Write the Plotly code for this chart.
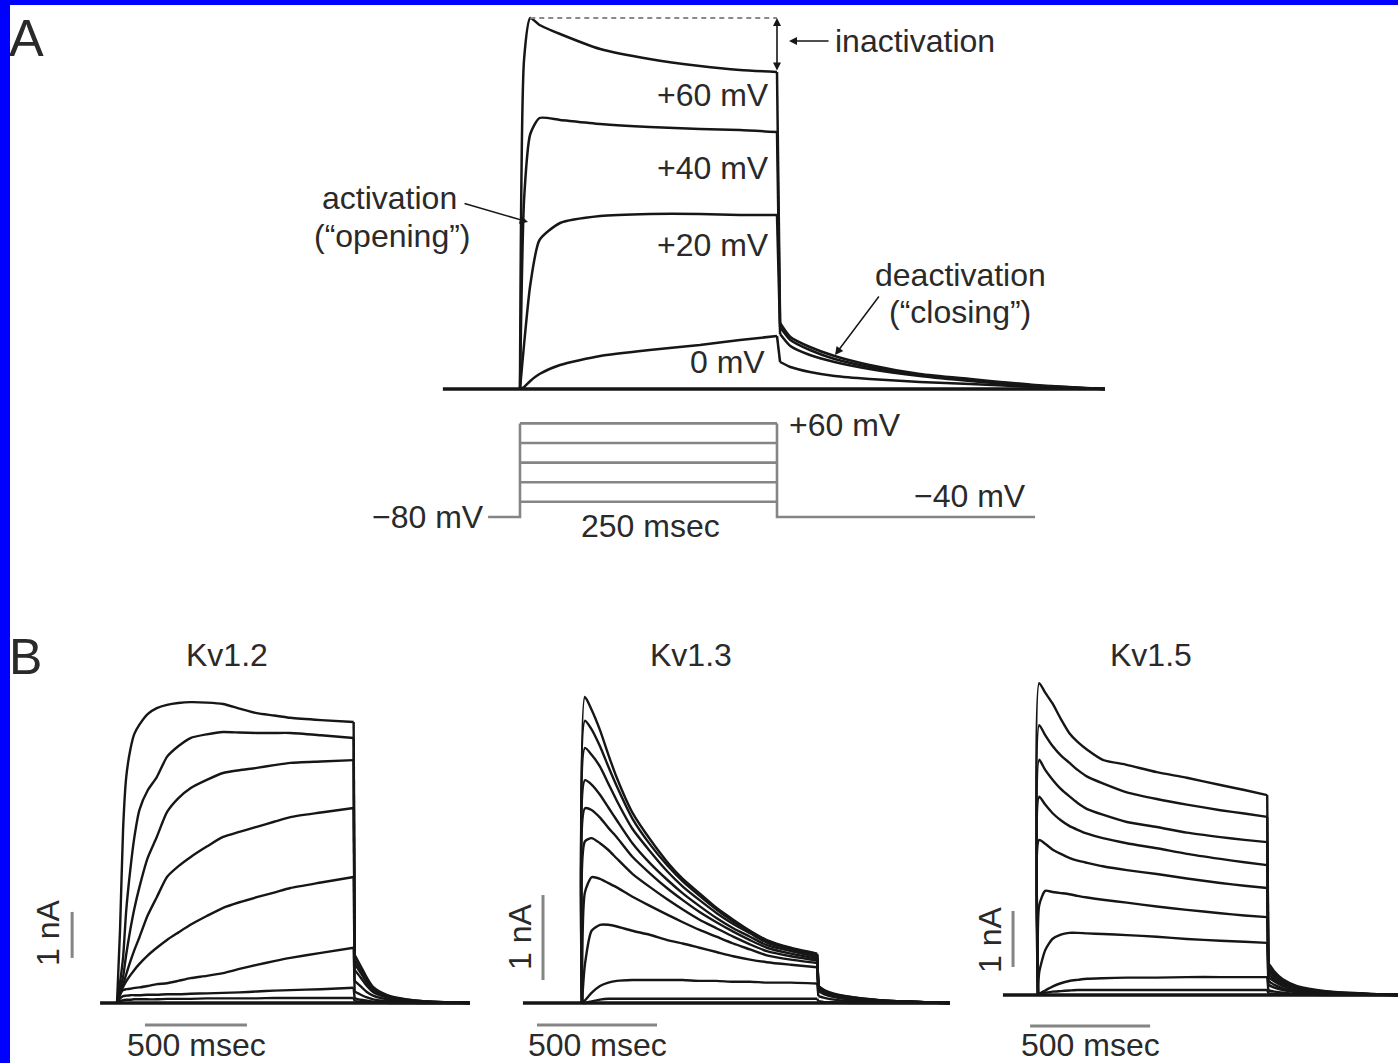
import plotly.graph_objects as go

W, H = 1398, 1063


def px(x):
    return x / W


def py(y):
    return 1 - y / H


# ---------------- Panel A: currents (relative units) ----------------
a_time_ms = [-75, 0, 4, 10, 19, 39, 78, 126, 175, 214, 250, 253, 263, 282, 306, 340, 389, 438, 501, 569]
a_i_p60 = [0, 0, 3.30, 3.71, 3.64, 3.55, 3.40, 3.30, 3.23, 3.19, 3.17, 0.66, 0.52, 0.42, 0.33, 0.24, 0.15, 0.10, 0.04, 0]
a_i_p40 = [0, 0, 1.90, 2.55, 2.71, 2.69, 2.65, 2.62, 2.60, 2.59, 2.57, 0.62, 0.49, 0.39, 0.30, 0.22, 0.14, 0.09, 0.035, 0]
a_i_p20 = [0, 0, 0.45, 1.04, 1.49, 1.66, 1.73, 1.75, 1.75, 1.74, 1.74, 0.55, 0.43, 0.34, 0.27, 0.20, 0.13, 0.08, 0.03, 0]
a_i_0 = [0, 0, 0.02, 0.08, 0.15, 0.24, 0.33, 0.39, 0.44, 0.49, 0.53, 0.27, 0.22, 0.17, 0.13, 0.10, 0.07, 0.05, 0.02, 0]
a_i_m20 = [0] * 20
a_sweep_labels = ["+60 mV", "+40 mV", "+20 mV", "0 mV"]

# ---------------- Panel A: voltage protocol (schematic) ----------------
protocol_step_mV = [-20, 0, 20, 40, 60]
protocol_step_ms = 250
protocol_hold_start_ms = -31
protocol_tail_end_ms = 501
protocol_baseline_drawn = -35.5   # schematic level at which -80/-40 mV are drawn

# ---------------- Panel B ----------------
kv12_step_end_ms = 1160
kv12_time_ms = [-83, 0, 15, 30, 45, 65, 85, 110, 150, 195, 245, 300, 360, 440, 520, 600, 685, 770, 850, 1000, 1160,
                1165, 1195, 1225, 1255, 1300, 1340, 1420, 1500, 1730]
kv12_sweeps_nA = [
    [0, 0, 1.60, 3.80, 4.90, 5.50, 5.85, 6.05, 6.28, 6.41, 6.48, 6.52, 6.54, 6.53, 6.50, 6.40, 6.30, 6.25, 6.20, 6.15, 6.11,
     1.05, 0.80, 0.55, 0.35, 0.22, 0.15, 0.08, 0.04, 0],
    [0, 0, 0.45, 1.00, 2.00, 2.89, 3.60, 4.20, 4.62, 4.91, 5.35, 5.58, 5.76, 5.84, 5.89, 5.88, 5.87, 5.87, 5.87, 5.82, 5.76,
     0.95, 0.72, 0.50, 0.32, 0.20, 0.13, 0.07, 0.04, 0],
    [0, 0, 0.30, 0.57, 1.05, 1.59, 2.05, 2.52, 3.15, 3.61, 4.15, 4.45, 4.67, 4.85, 5.00, 5.06, 5.11, 5.17, 5.22, 5.25, 5.28,
     0.85, 0.65, 0.44, 0.28, 0.18, 0.12, 0.06, 0.03, 0],
    [0, 0, 0.25, 0.40, 0.62, 0.90, 1.15, 1.43, 1.90, 2.30, 2.74, 2.97, 3.17, 3.40, 3.61, 3.72, 3.83, 3.94, 4.04, 4.14, 4.24,
     0.72, 0.55, 0.37, 0.24, 0.15, 0.10, 0.05, 0.03, 0],
    [0, 0, 0.20, 0.35, 0.47, 0.60, 0.72, 0.85, 1.03, 1.20, 1.37, 1.53, 1.70, 1.89, 2.07, 2.19, 2.30, 2.40, 2.50, 2.62, 2.74,
     0.48, 0.36, 0.24, 0.16, 0.10, 0.07, 0.04, 0.02, 0],
    [0, 0, 0.18, 0.28, 0.30, 0.31, 0.33, 0.34, 0.37, 0.41, 0.43, 0.48, 0.54, 0.59, 0.65, 0.74, 0.83, 0.91, 0.98, 1.09, 1.20,
     0.25, 0.18, 0.12, 0.08, 0.05, 0.04, 0.02, 0.01, 0],
    [0, 0, 0.10, 0.15, 0.16, 0.17, 0.17, 0.17, 0.18, 0.18, 0.19, 0.19, 0.20, 0.21, 0.22, 0.23, 0.25, 0.27, 0.28, 0.30, 0.33,
     0.10, 0.07, 0.05, 0.03, 0.02, 0.01, 0.01, 0, 0],
    [0, 0, 0.04, 0.06, 0.07, 0.07, 0.08, 0.08, 0.08, 0.08, 0.09, 0.09, 0.09, 0.10, 0.10, 0.10, 0.10, 0.11, 0.11, 0.11, 0.11,
     0.04, 0.03, 0.02, 0.01, 0.01, 0, 0, 0, 0],
]

kv13_step_end_ms = 980
kv13_time_ms = [-246, 0, 12, 40, 75, 110, 145, 210, 285, 355, 420, 490, 560, 630, 700, 770, 870, 980,
                985, 1010, 1050, 1120, 1250, 1533]
kv13_sweeps_nA = [
    [0, 0, 3.60, 3.45, 3.21, 2.92, 2.65, 2.24, 1.92, 1.66, 1.46, 1.29, 1.12, 0.98, 0.85, 0.74, 0.65, 0.58, 0.20, 0.15, 0.11, 0.07, 0.03, 0],
    [0, 0, 3.32, 3.22, 3.02, 2.78, 2.55, 2.17, 1.86, 1.62, 1.43, 1.26, 1.10, 0.96, 0.84, 0.73, 0.64, 0.57, 0.19, 0.15, 0.10, 0.07, 0.03, 0],
    [0, 0, 3.00, 2.92, 2.78, 2.58, 2.38, 2.05, 1.78, 1.55, 1.37, 1.21, 1.06, 0.93, 0.82, 0.71, 0.63, 0.56, 0.19, 0.14, 0.10, 0.06, 0.03, 0],
    [0, 0, 2.62, 2.57, 2.45, 2.30, 2.15, 1.88, 1.64, 1.45, 1.29, 1.14, 1.00, 0.88, 0.78, 0.68, 0.61, 0.54, 0.18, 0.14, 0.10, 0.06, 0.03, 0],
    [0, 0, 2.29, 2.27, 2.18, 2.06, 1.95, 1.72, 1.52, 1.35, 1.21, 1.07, 0.95, 0.84, 0.74, 0.65, 0.58, 0.52, 0.18, 0.13, 0.09, 0.06, 0.02, 0],
    [0, 0, 1.90, 1.94, 1.88, 1.80, 1.70, 1.52, 1.36, 1.22, 1.10, 0.98, 0.88, 0.78, 0.69, 0.61, 0.55, 0.50, 0.17, 0.13, 0.09, 0.05, 0.02, 0],
    [0, 0, 1.30, 1.48, 1.46, 1.41, 1.36, 1.25, 1.14, 1.04, 0.95, 0.86, 0.78, 0.70, 0.63, 0.56, 0.51, 0.47, 0.16, 0.12, 0.08, 0.05, 0.02, 0],
    [0, 0, 0.45, 0.85, 0.92, 0.92, 0.90, 0.85, 0.80, 0.74, 0.70, 0.65, 0.60, 0.55, 0.51, 0.48, 0.45, 0.42, 0.14, 0.10, 0.07, 0.04, 0.02, 0],
    [0, 0, 0.03, 0.12, 0.20, 0.24, 0.26, 0.27, 0.27, 0.27, 0.27, 0.26, 0.26, 0.25, 0.25, 0.24, 0.24, 0.23, 0.08, 0.06, 0.04, 0.02, 0.01, 0],
    [0, 0, 0.00, 0.02, 0.04, 0.05, 0.05, 0.05, 0.05, 0.05, 0.05, 0.05, 0.05, 0.05, 0.05, 0.05, 0.05, 0.05, 0.02, 0.01, 0.01, 0, 0, 0],
]

kv15_step_end_ms = 955
kv15_time_ms = [-146, 0, 5, 30, 60, 95, 130, 165, 205, 270, 370, 495, 620, 760, 860, 955,
                960, 985, 1020, 1080, 1200, 1500]
kv15_sweeps_nA = [
    [0, 0, 5.57, 5.40, 5.21, 4.93, 4.68, 4.52, 4.38, 4.20, 4.11, 3.98, 3.88, 3.75, 3.66, 3.57, 0.57, 0.42, 0.28, 0.16, 0.07, 0],
    [0, 0, 4.82, 4.64, 4.45, 4.28, 4.15, 4.02, 3.90, 3.78, 3.62, 3.50, 3.40, 3.30, 3.24, 3.18, 0.50, 0.37, 0.25, 0.14, 0.06, 0],
    [0, 0, 4.20, 4.02, 3.85, 3.68, 3.55, 3.43, 3.32, 3.22, 3.09, 3.00, 2.90, 2.82, 2.77, 2.73, 0.44, 0.33, 0.22, 0.12, 0.05, 0],
    [0, 0, 3.54, 3.40, 3.25, 3.12, 3.02, 2.95, 2.88, 2.80, 2.71, 2.62, 2.52, 2.43, 2.37, 2.32, 0.38, 0.28, 0.19, 0.10, 0.04, 0],
    [0, 0, 2.77, 2.70, 2.60, 2.52, 2.45, 2.40, 2.36, 2.30, 2.23, 2.16, 2.08, 2.00, 1.95, 1.91, 0.32, 0.24, 0.16, 0.09, 0.04, 0],
    [0, 0, 1.60, 1.86, 1.84, 1.82, 1.80, 1.77, 1.74, 1.70, 1.65, 1.58, 1.52, 1.46, 1.42, 1.39, 0.25, 0.18, 0.12, 0.07, 0.03, 0],
    [0, 0, 0.40, 0.80, 1.00, 1.08, 1.11, 1.11, 1.10, 1.09, 1.07, 1.04, 1.00, 0.97, 0.95, 0.93, 0.18, 0.13, 0.09, 0.05, 0.02, 0],
    [0, 0, 0.02, 0.08, 0.15, 0.21, 0.25, 0.27, 0.29, 0.30, 0.31, 0.31, 0.32, 0.32, 0.32, 0.32, 0.08, 0.06, 0.04, 0.02, 0.01, 0],
    [0, 0, 0.02, 0.04, 0.06, 0.07, 0.08, 0.09, 0.09, 0.09, 0.09, 0.09, 0.09, 0.09, 0.09, 0.09, 0.03, 0.02, 0.01, 0.01, 0, 0],
]

b_titles = ["Kv1.2", "Kv1.3", "Kv1.5"]
scale_time_ms = 500
scale_current_nA = 1

# ---------------- styles ----------------
FONT = "Liberation Sans, Arial, Helvetica, sans-serif"
INK = "#161616"
TXT = "#2a2a2a"
GREY = "#858585"
BASE_W = 3.6
FS = 32

fig = go.Figure()


def add_line(x, y, xa, ya, color=INK, width=2.3, dash=None, shape="linear"):
    line = dict(color=color, width=width, dash=dash, shape=shape)
    if shape == "spline":
        line["smoothing"] = 0.6
    fig.add_trace(go.Scatter(x=x, y=y, xaxis=xa, yaxis=ya, mode="lines", line=line,
                             hoverinfo="skip", showlegend=False))


def add_sweep(t, v, step_end, xa, ya, width):
    """Draw a sweep: smooth during the step, a sharp drop at the step end, smooth tail."""
    k = t.index(step_end)
    add_line(t[1:k + 1], v[1:k + 1], xa, ya, width=width, shape="spline")
    add_line(t[k:k + 2], v[k:k + 2], xa, ya, width=width)
    add_line(t[k + 1:], v[k + 1:], xa, ya, width=width, shape="spline")


# Panel A currents
add_line(a_time_ms, a_i_m20, "x", "y", width=BASE_W)
for sweep in [a_i_0, a_i_p20, a_i_p40, a_i_p60]:
    add_sweep(a_time_ms, sweep, protocol_step_ms, "x", "y", 2.5)

# Panel A protocol
for lvl in protocol_step_mV:
    add_line([0, protocol_step_ms], [lvl, lvl], "x", "y2", color=GREY, width=2.6)
add_line([protocol_hold_start_ms, 0, 0], [protocol_baseline_drawn, protocol_baseline_drawn, max(protocol_step_mV)],
         "x", "y2", color=GREY, width=2.6)
add_line([protocol_step_ms, protocol_step_ms, protocol_tail_end_ms],
         [max(protocol_step_mV), protocol_baseline_drawn, protocol_baseline_drawn], "x", "y2", color=GREY, width=2.6)

# Panel B currents
for xa, ya, t, sweeps, t_end in [("x3", "y3", kv12_time_ms, kv12_sweeps_nA, kv12_step_end_ms),
                                 ("x4", "y4", kv13_time_ms, kv13_sweeps_nA, kv13_step_end_ms),
                                 ("x5", "y5", kv15_time_ms, kv15_sweeps_nA, kv15_step_end_ms)]:
    add_line(t, [0] * len(t), xa, ya, width=BASE_W)
    for sweep in sweeps:
        add_sweep(t, sweep, t_end, xa, ya, 2.4)

# scale bars (data units through the axes)
scale_bars = [  # axis, t_start of time bar, y of time bar, t of current bar, y start of current bar
    ("3", 137, -0.478, -220, 0.98),
    ("4", -187.5, -0.259, -162.5, 0.27),
    ("5", -33, -0.554, -104, 0.50),
]
for k, t0, yb, tc, yc in scale_bars:
    add_line([t0, t0 + scale_time_ms], [yb, yb], "x" + k, "y" + k, color=GREY, width=3)
    add_line([tc, tc], [yc, yc + scale_current_nA], "x" + k, "y" + k, color=GREY, width=3)

ax_common = dict(visible=False, fixedrange=True, showgrid=False, zeroline=False)
fig.update_layout(
    width=W, height=H, margin=dict(l=0, r=0, t=0, b=0),
    paper_bgcolor="white", plot_bgcolor="rgba(0,0,0,0)", showlegend=False,
    xaxis=dict(domain=[px(440), px(1110)], range=[-77.8, 573.9], anchor="y", **ax_common),
    yaxis=dict(domain=[py(395), py(10)], range=[-0.06, 3.79], anchor="x", **ax_common),
    yaxis2=dict(domain=[py(530), py(410)], range=[-48.8, 73.7], anchor="x", **ax_common),
    xaxis3=dict(domain=[px(30), px(470)], range=[-426.5, 1730.4], anchor="y3", **ax_common),
    yaxis3=dict(domain=[py(1060), py(690)], range=[-1.239, 6.804], anchor="x3", **ax_common),
    xaxis4=dict(domain=[px(495), px(955)], range=[-362.5, 1554.2], anchor="y4", **ax_common),
    yaxis4=dict(domain=[py(1060), py(690)], range=[-0.6706, 3.6824], anchor="x4", **ax_common),
    xaxis5=dict(domain=[px(970), px(1398)], range=[-283.3, 1500], anchor="y5", **ax_common),
    yaxis5=dict(domain=[py(1060), py(670)], range=[-1.1607, 5.8036], anchor="x5", **ax_common),
)

# blue frame (left and top)
fig.add_shape(type="rect", xref="paper", yref="paper", x0=0, x1=px(10), y0=0, y1=1,
              fillcolor="#0000ff", line=dict(width=0), layer="above")
fig.add_shape(type="rect", xref="paper", yref="paper", x0=0, x1=1, y0=py(5), y1=1,
              fillcolor="#0000ff", line=dict(width=0), layer="above")

# inactivation: dashed peak line and double arrow
peak60 = max(a_i_p60)
end60 = a_i_p60[a_time_ms.index(protocol_step_ms)]
t_peak60 = a_time_ms[a_i_p60.index(peak60)]
fig.add_shape(type="line", xref="x", yref="y", x0=t_peak60, x1=protocol_step_ms, y0=peak60, y1=peak60,
              line=dict(color="#8a8a8a", width=2, dash="5px,4px"))
fig.add_annotation(x=protocol_step_ms, y=peak60, ax=protocol_step_ms, ay=end60, xref="x", yref="y",
                   axref="x", ayref="y", text="", showarrow=True, arrowhead=2, startarrowhead=2,
                   arrowside="end+start", arrowsize=1, arrowwidth=1.6, arrowcolor=INK)
fig.add_annotation(x=261.7, y=3.48, ax=301.6, ay=3.48, xref="x", yref="y", axref="x", ayref="y",
                   text="", showarrow=True, arrowhead=2, arrowsize=1, arrowwidth=1.6, arrowcolor=INK)
# activation / deactivation arrows
fig.add_annotation(x=7.8, y=1.67, ax=-55.4, ay=1.86, xref="x", yref="y", axref="x", ayref="y",
                   text="", showarrow=True, arrowhead=2, arrowsize=1.1, arrowwidth=1.5, arrowcolor=INK)
fig.add_annotation(x=306.4, y=0.34, ax=350.2, ay=0.94, xref="x", yref="y", axref="x", ayref="y",
                   text="", showarrow=True, arrowhead=2, arrowsize=1.1, arrowwidth=1.5, arrowcolor=INK)


def label(text, x, y, size=FS, xanchor="center", angle=0, color=TXT):
    fig.add_annotation(text=text, x=px(x), y=py(y), xref="paper", yref="paper", showarrow=False,
                       xanchor=xanchor, yanchor="middle", textangle=angle,
                       font=dict(family=FONT, size=size, color=color))


label("A", 7, 38, size=52, xanchor="left")
label("B", 7, 657, size=50, xanchor="left")
label("inactivation", 833, 41, xanchor="left")
for txt, yy, xx in zip(a_sweep_labels, [95, 168, 245, 362], [771, 771, 771, 767]):
    label(txt, xx, yy, xanchor="right")
label("activation", 390, 198)
label("(“opening”)", 392, 236)
label("deactivation", 960, 275)
label("(“closing”)", 960, 312)
label("+60 mV", 787, 425, xanchor="left")
label("−40 mV", 1028, 496, xanchor="right")
label("−80 mV", 486, 517, xanchor="right")
label("250 msec", 650, 526)

for title, xx in zip(b_titles, [227, 691, 1151]):
    label(title, xx, 655)
for xx in [196, 597, 1090]:
    label("500 msec", xx, 1045)
for xx, yy in [(48, 933), (520, 937), (990, 940)]:
    label("1 nA", xx, yy, angle=-90)

fig.write_html("out.html", config={"displayModeBar": False, "staticPlot": True},
               post_script="document.body.style.margin='0px';document.body.style.overflow='hidden';")
